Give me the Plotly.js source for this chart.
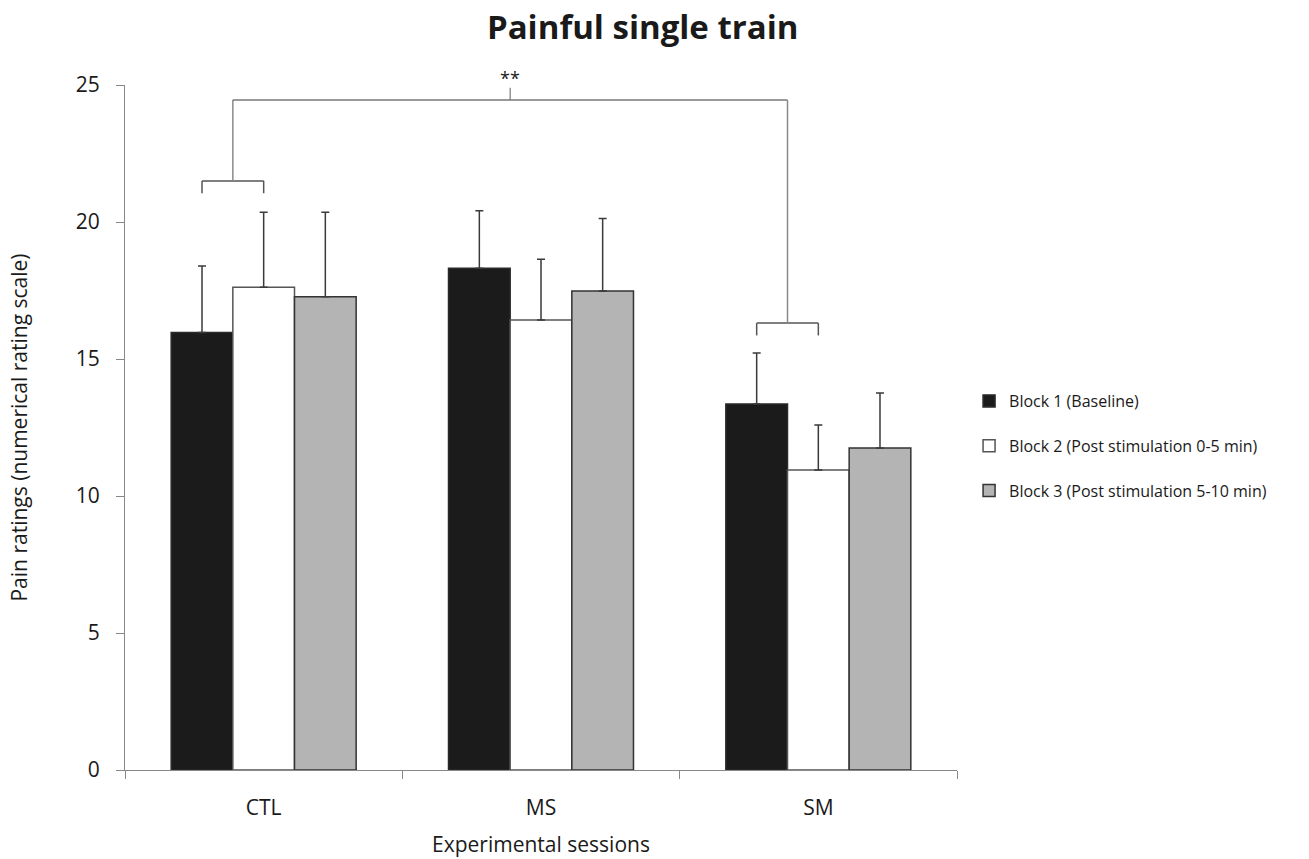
<!DOCTYPE html>
<html>
<head>
<meta charset="utf-8">
<script src="https://cdn.plot.ly/plotly-3.0.1.min.js"></script>
<style>html,body{margin:0;padding:0;background:#fff;}#chart{width:1309px;height:859px;}</style>
</head>
<body>
<div id="chart"></div>
<script>
// ---- data ----
const categories = ["CTL", "MS", "SM"];
const seriesNames = ["Block 1 (Baseline)", "Block 2 (Post stimulation 0-5 min)", "Block 3 (Post stimulation 5-10 min)"];
const block1 = [15.97, 18.31, 13.36];
const block2 = [17.62, 16.42, 10.95];
const block3 = [17.27, 17.48, 11.75];
const err1 = [2.42, 2.10, 1.86];
const err2 = [2.74, 2.22, 1.64];
const err3 = [3.09, 2.65, 2.01];
const yTicks = [0, 5, 10, 15, 20, 25];
const sigLabel = "**";

const FONT = "'Open Sans', 'Noto Sans', sans-serif";
const fills = ["#1b1b1b", "#ffffff", "#b4b4b4"];
const outlines = ["#2a2a2a", "#555555", "#333333"];
const values = [block1, block2, block3];
const errs = [err1, err2, err3];

const bargap = 0.333;
const barW = (1 - bargap) / 3;

const traces = values.map((v, i) => ({
  type: "bar",
  x: categories,
  y: v,
  name: seriesNames[i],
  legendgroup: "g" + i,
  marker: {color: fills[i], line: {color: outlines[i], width: 1.5}},
  error_y: {type: "data", symmetric: false, array: errs[i], arrayminus: errs[i].map(() => 0),
            color: "#3a3a3a", thickness: 1.5, width: 4}
}));

// brackets derived from bar positions (Block 1 vs Block 2 centers)
const c1 = -barW, c2 = 0;
function bracket(ci, yTop, yLow) {
  return [
    {type: "line", xref: "x", yref: "y", x0: ci + c1, x1: ci + c2, y0: yTop, y1: yTop, line: {color: "#555", width: 1.5}},
    {type: "line", xref: "x", yref: "y", x0: ci + c1, x1: ci + c1, y0: yTop, y1: yLow, line: {color: "#555", width: 1.5}},
    {type: "line", xref: "x", yref: "y", x0: ci + c2, x1: ci + c2, y0: yTop, y1: yLow, line: {color: "#555", width: 1.5}}
  ];
}
const ctlTop = 21.5, smTop = 16.31, linkY = 24.45;
const midCTL = 0 + (c1 + c2) / 2, midSM = 2 + (c1 + c2) / 2;
const midLink = (midCTL + midSM) / 2;
const shapes = [].concat(
  bracket(0, ctlTop, ctlTop - 0.45),
  bracket(2, smTop, smTop - 0.45),
  [
    {type: "line", xref: "x", yref: "y", x0: midCTL, x1: midCTL, y0: ctlTop, y1: linkY, line: {color: "#8a8a8a", width: 1.5}},
    {type: "line", xref: "x", yref: "y", x0: midSM, x1: midSM, y0: smTop, y1: linkY, line: {color: "#8a8a8a", width: 1.5}},
    {type: "line", xref: "x", yref: "y", x0: midCTL, x1: midSM, y0: linkY, y1: linkY, line: {color: "#777", width: 1.5}},
    {type: "line", xref: "x", yref: "y", x0: midLink, x1: midLink, y0: linkY, y1: linkY + 0.45, line: {color: "#777", width: 1.2}}
  ]
);

const layout = {
  width: 1309, height: 859,
  margin: {l: 125, r: 352, t: 85, b: 89},
  paper_bgcolor: "#fff", plot_bgcolor: "#fff",
  font: {family: FONT, color: "#1a1a1a"},
  title: {text: "<b>Painful single train</b>", font: {family: FONT, size: 33, color: "#1a1a1a"},
          xref: "container", x: 0.491, xanchor: "center", yref: "container", y: 0.968, yanchor: "middle"},
  barmode: "group", bargap: bargap, bargroupgap: 0,
  showlegend: true,
  legend: {x: 1.0145, xanchor: "left", y: 0.473, yanchor: "middle", traceorder: "grouped", tracegroupgap: 21,
           font: {family: FONT, size: 16, color: "#1a1a1a"}, bgcolor: "rgba(0,0,0,0)"},
  xaxis: {type: "category", range: [-0.5, 2.5], showline: true, linecolor: "#888", linewidth: 1,
          ticks: "outside", tickson: "boundaries", ticklen: 8, tickcolor: "#888", showgrid: false, zeroline: false,
          tickfont: {family: FONT, size: 21, color: "#1a1a1a"}, ticklabelstandoff: 19, fixedrange: true,
          title: {text: "Experimental sessions", font: {family: FONT, size: 21, color: "#1a1a1a"}, standoff: 17}},
  yaxis: {range: [0, 25], tickvals: yTicks, ticktext: yTicks.map(String), showline: true, linecolor: "#888", linewidth: 1,
          ticks: "outside", ticklen: 8, tickcolor: "#888", showgrid: false, zeroline: false,
          tickfont: {family: FONT, size: 21, color: "#1a1a1a"}, ticklabelstandoff: 12,
          title: {text: "Pain ratings (numerical rating scale)", font: {family: FONT, size: 21, color: "#1a1a1a"}, standoff: 42}},
  shapes: shapes,
  annotations: [
    {xref: "x", yref: "y", x: midLink, y: linkY + 0.45, text: sigLabel, showarrow: false, yanchor: "bottom",
     font: {family: FONT, size: 18, color: "#1a1a1a"}, yshift: -4}
  ]
};

Plotly.newPlot("chart", traces, layout, {displayModeBar: false, staticPlot: true});
</script>
</body>
</html>
